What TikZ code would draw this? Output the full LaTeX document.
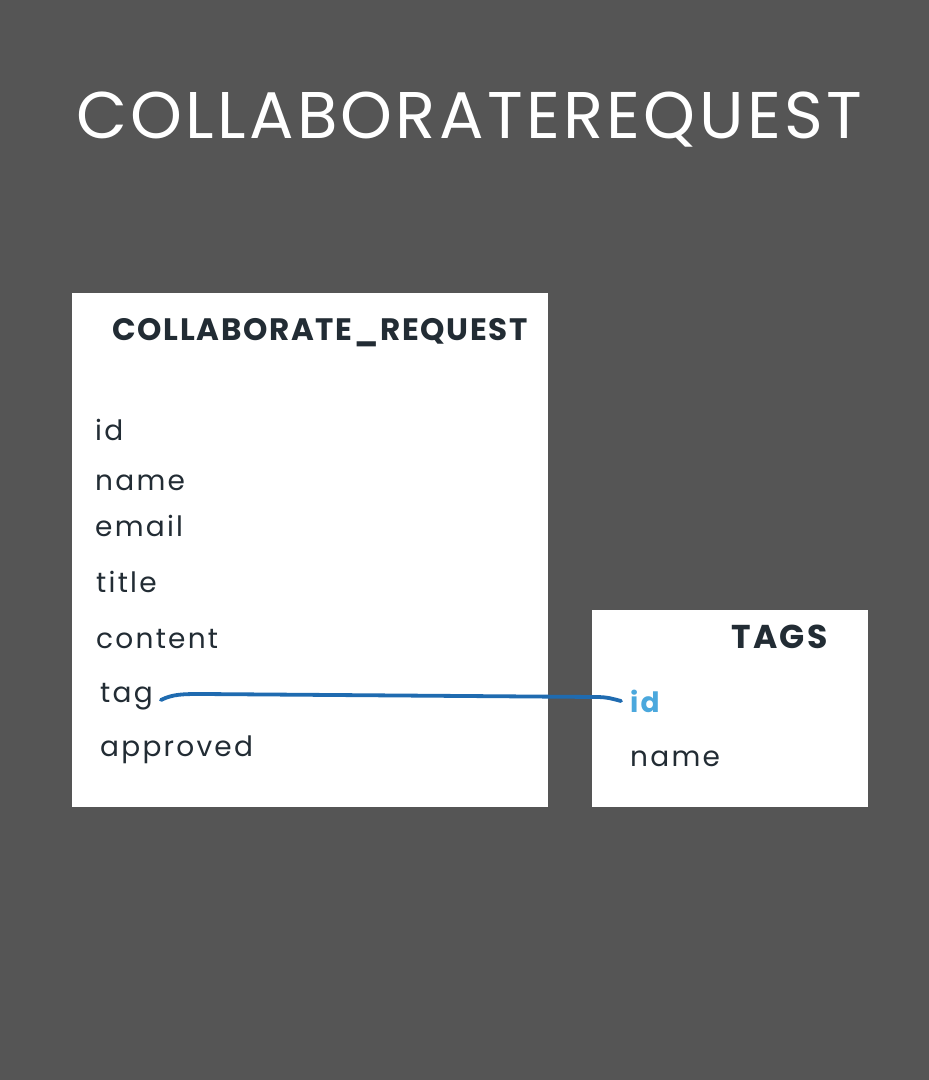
\documentclass[tikz,border=0pt]{standalone}
\usepackage{fontspec}
\setmainfont{Poppins}
\definecolor{bgGrey}{HTML}{555555}
\definecolor{inkDark}{HTML}{222C34}
\definecolor{linkBlue}{HTML}{1F6BB0}
\definecolor{keyBlue}{HTML}{4BA8DD}
\tikzset{
  tablebox/.style={fill=white, draw=none},
  tablehead/.style={anchor=base west, inner sep=0pt, text=inkDark, font=\fontsize{31}{31}\selectfont\bfseries\addfontfeatures{LetterSpace=5.5}},
  field/.style={anchor=base west, inner sep=0pt, text=inkDark, font=\fontsize{28}{28}\selectfont\addfontfeatures{LetterSpace=8}},
  keyfield/.style={field, text=keyBlue, font=\fontsize{28}{28}\selectfont\bfseries\addfontfeatures{LetterSpace=8}},
  link/.style={linkBlue, line width=3.8pt, line cap=round}
}
\begin{document}
\begin{tikzpicture}[x=1pt, y=-1pt]
    % Background
    \fill[bgGrey] (0,0) rectangle (929,1080);
    \useasboundingbox (0,0) rectangle (929,1080);

    % Title
    \node[anchor=base west, inner sep=0pt, text=white, font=\fontsize{66}{66}\selectfont\addfontfeatures{LetterSpace=5}] (title) at (76,138) {COLLABORATEREQUEST};

    % Table collaborate_request
    \fill[tablebox] (72,293) rectangle (548,807);
    \node[tablehead] (crhead) at (112,340) {COLLABORATE\_REQUEST};
    \node[field] (crid) at (95,440) {id};
    \node[field] (crname) at (95,490) {name};
    \node[field] (cremail) at (95,536) {email};
    \node[field] (crtitle) at (96,592) {title};
    \node[field] (crcontent) at (96,648) {content};
    \node[field] (tag) at (100,702) {tag};
    \node[field] (crapproved) at (100,756) {approved};

    % Table tags
    \fill[tablebox] (592,610) rectangle (868,807);
    \node[tablehead, font=\fontsize{33}{33}\selectfont\bfseries\addfontfeatures{LetterSpace=7}] (tagshead) at (731,648) {TAGS};
    \node[keyfield] (tid) at (630,712) {id};
    \node[field] (tname) at (630,766) {name};

    % Foreign key link
    \coordinate (tagend) at ([xshift=8pt,yshift=2pt]tag.base east);
    \coordinate (idend) at ([xshift=-9pt,yshift=11pt]tid.base west);
    \draw[link] (tagend) .. controls +(12,-6) and +(-20,0) .. ++(42,-6) -- ([xshift=-25pt,yshift=4pt]idend) .. controls +(12,0) and +(-8,-2) .. (idend);
\end{tikzpicture}
\end{document}
